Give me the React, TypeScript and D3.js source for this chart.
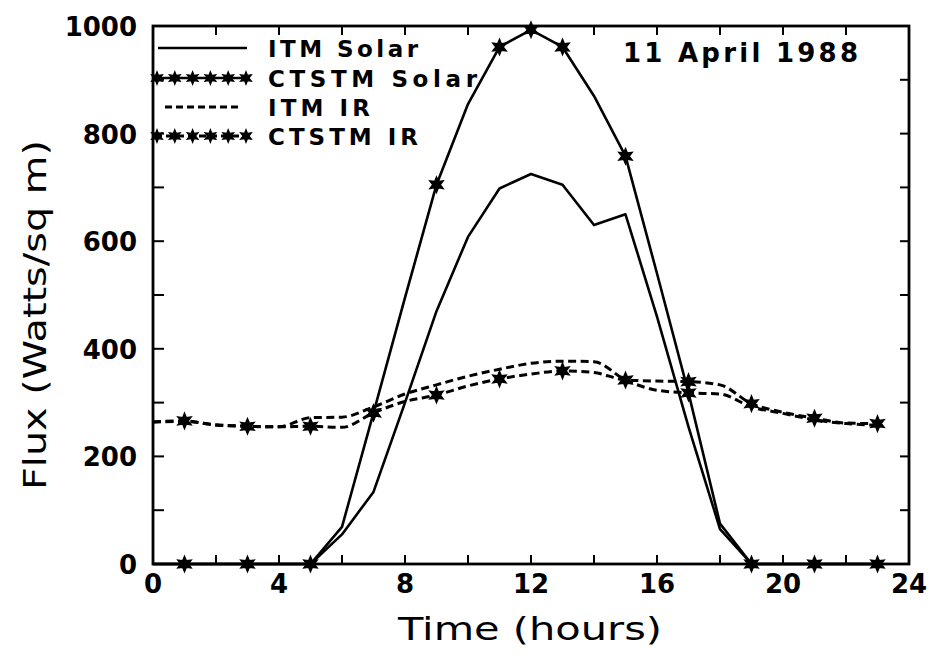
import React from "react";
import * as d3 from "d3";

const hours = [0, 1, 2, 3, 4, 5, 6, 7, 8, 9, 10, 11, 12, 13, 14, 15, 16, 17, 18, 19, 20, 21, 22, 23];
const itmSolar = [0, 0, 0, 0, 0, 0, 55, 134, 300, 470, 608, 698, 725, 705, 630, 650, 460, 255, 65, 0, 0, 0, 0, 0];
const ctstmSolar = [0, 0, 0, 0, 0, 0, 69, 281, 495, 705, 855, 961, 993, 961, 870, 758, 540, 318, 75, 0, 0, 0, 0, 0];
const itmIR = [264, 265, 259, 256, 255, 272, 273, 292, 316, 333, 349, 362, 373, 377, 376, 342, 323, 318, 316, 292, 280, 268, 261, 258];
const ctstmIR = [264, 266, 258, 256, 255, 256, 254, 281, 302, 314, 331, 344, 353, 359, 356, 342, 340, 339, 333, 298, 282, 271, 262, 261];
const ctstmSolarMarkerHours = [1, 3, 5, 7, 9, 11, 12, 13, 15, 17, 19, 21, 23];
const ctstmIRMarkerHours = [1, 3, 5, 7, 9, 11, 13, 15, 17, 19, 21, 23];

const xTicks = [0, 4, 8, 12, 16, 20, 24];
const xMinorTicks = [2, 4, 6, 8, 10, 12, 14, 16, 18, 20, 22];
const yTicks = [0, 200, 400, 600, 800, 1000];
const yMinorTicks = [100, 200, 300, 400, 500, 600, 700, 800, 900];

const legendLabels = ["ITM  Solar", "CTSTM  Solar", "ITM  IR", "CTSTM  IR"];
const titleText = "11  April  1988";
const xTitle = "Time  (hours)";
const yTitle = "Flux  (Watts/sq  m)";

const FONT = "'DejaVu Sans', 'Liberation Sans', Arial, sans-serif";

const starSymbol = {
  draw(context: any, size: number) {
    const r = Math.sqrt(size) / 2;
    const ri = r * 0.48;
    for (let i = 0; i < 12; i++) {
      const a = (i * Math.PI) / 6 - Math.PI / 2;
      const rr = i % 2 === 0 ? r : ri;
      const px = Math.cos(a) * rr;
      const py = Math.sin(a) * rr;
      if (i === 0) context.moveTo(px, py);
      else context.lineTo(px, py);
    }
    context.closePath();
  },
};

export default function App() {
  const W = 930;
  const H = 654;
  const x = d3.scaleLinear().domain([0, 24]).range([153, 909]);
  const y = d3.scaleLinear().domain([0, 1000]).range([564, 26]);

  const linear = d3
    .line<number>()
    .x((_, i) => x(hours[i]))
    .y((d) => y(d));
  const smooth = d3
    .line<number>()
    .x((_, i) => x(hours[i]))
    .y((d) => y(d))
    .curve(d3.curveMonotoneX);

  const star = d3.symbol().type(starSymbol as any).size(230)();
  const starSmall = d3.symbol().type(starSymbol as any).size(160)();

  const [x0, x1] = x.range();
  const [yb, yt] = y.range();

  const legendY = [48, 78, 107, 136];
  const legendTextX = 268;
  const legendTextLen = [150, 209, 102, 150];
  const sampleX = d3.scaleLinear().domain([0, 5]).range([157, 246]);
  const sampleIdx = [0, 1, 2, 3, 4, 5];

  return (
    <svg
      width={W}
      height={H}
      style={{ position: "absolute", left: 0, top: 0, background: "#fff" }}
      fontFamily={FONT}
    >
      <rect x={0} y={0} width={W} height={H} fill="#fff" />
      {/* frame */}
      <rect x={x0} y={yt} width={x1 - x0} height={yb - yt} fill="none" stroke="#000" strokeWidth={2.8} />
      {/* ticks */}
      {xMinorTicks.map((t) => (
        <g key={"xt" + t}>
          <line x1={x(t)} x2={x(t)} y1={yb} y2={yb - 9} stroke="#000" strokeWidth={2} />
          <line x1={x(t)} x2={x(t)} y1={yt} y2={yt + 9} stroke="#000" strokeWidth={2} />
        </g>
      ))}
      {yMinorTicks.map((t) => (
        <g key={"yt" + t}>
          <line x1={x0} x2={x0 + 11} y1={y(t)} y2={y(t)} stroke="#000" strokeWidth={2} />
          <line x1={x1} x2={x1 - 9} y1={y(t)} y2={y(t)} stroke="#000" strokeWidth={2} />
        </g>
      ))}
      {/* tick labels */}
      {xTicks.map((t) => (
        <text key={"xl" + t} x={x(t)} y={593} textAnchor="middle" fontSize={26} fontWeight="bold">
          {t}
        </text>
      ))}
      {yTicks.map((t) => (
        <text key={"yl" + t} x={137} y={y(t) + 10} textAnchor="end" fontSize={26} fontWeight="bold">
          {t}
        </text>
      ))}
      {/* axis titles */}
      <text x={398} y={640} fontSize={32} textLength={264} lengthAdjust="spacingAndGlyphs">
        {xTitle}
      </text>
      <text
        transform={`translate(46,490) rotate(-90)`}
        fontSize={32}
        textLength={350}
        lengthAdjust="spacingAndGlyphs"
      >
        {yTitle}
      </text>
      {/* date */}
      <text x={623} y={62} fontSize={26} fontWeight="bold" textLength={235} lengthAdjust="spacing">
        {titleText}
      </text>

      {/* series */}
      <path d={linear(itmSolar) || ""} fill="none" stroke="#000" strokeWidth={2.6} strokeLinejoin="round" />
      <path d={linear(ctstmSolar) || ""} fill="none" stroke="#000" strokeWidth={2.6} strokeLinejoin="round" />
      <path d={smooth(itmIR) || ""} fill="none" stroke="#000" strokeWidth={3} strokeDasharray="8 4.5" />
      <path d={smooth(ctstmIR) || ""} fill="none" stroke="#000" strokeWidth={3} strokeDasharray="8 4.5" />
      {ctstmSolarMarkerHours.map((h) => (
        <path key={"ms" + h} d={star || ""} transform={`translate(${x(h)},${y(ctstmSolar[hours.indexOf(h)])})`} fill="#000" stroke="#000" strokeWidth={1.5} />
      ))}
      {ctstmIRMarkerHours.map((h) => (
        <path key={"mi" + h} d={star || ""} transform={`translate(${x(h)},${y(ctstmIR[hours.indexOf(h)])})`} fill="#000" stroke="#000" strokeWidth={1.5} />
      ))}

      {/* legend */}
      <line x1={158} x2={247} y1={legendY[0]} y2={legendY[0]} stroke="#000" strokeWidth={2.6} />
      <line x1={155} x2={247} y1={legendY[1]} y2={legendY[1]} stroke="#000" strokeWidth={2.6} />
      {sampleIdx.map((i) => (
        <path key={"l2" + i} d={starSmall || ""} transform={`translate(${sampleX(i)},${legendY[1]})`} fill="#000" stroke="#000" strokeWidth={1.2} />
      ))}
      <line x1={165} x2={241} y1={legendY[2]} y2={legendY[2]} stroke="#000" strokeWidth={3} strokeDasharray="7 4" />
      <line x1={155} x2={247} y1={legendY[3]} y2={legendY[3]} stroke="#000" strokeWidth={3} strokeDasharray="7 4" />
      {sampleIdx.map((i) => (
        <path key={"l4" + i} d={starSmall || ""} transform={`translate(${sampleX(i)},${legendY[3]})`} fill="#000" stroke="#000" strokeWidth={1.2} />
      ))}
      {legendLabels.map((s, i) => (
        <text
          key={"lt" + i}
          x={legendTextX}
          y={legendY[i] + 9}
          fontSize={23}
          fontWeight="bold"
          textLength={legendTextLen[i]}
          lengthAdjust="spacing"
        >
          {s}
        </text>
      ))}
    </svg>
  );
}
